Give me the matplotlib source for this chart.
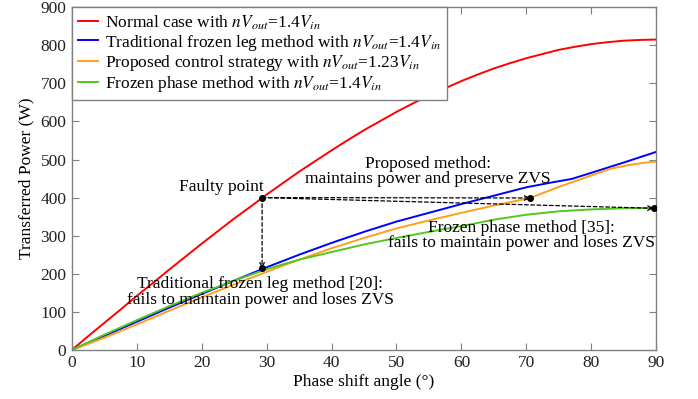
import matplotlib
matplotlib.use("Agg")
import matplotlib.pyplot as plt
import numpy as np

plt.rcParams['font.family'] = ['Liberation Serif', 'DejaVu Serif']
plt.rcParams['mathtext.fontset'] = 'stix'
plt.rcParams['font.size'] = 12.5

# Data
red_angle = [0, 2.5, 5, 7.5, 10, 12.5, 15, 17.5, 20, 22.5, 25, 27.5, 30, 32.5, 35, 37.5,
             40, 42.5, 45, 47.5, 50, 52.5, 55, 57.5, 60, 62.5, 65, 67.5, 70, 72.5, 75,
             77.5, 80, 82.5, 85, 87.5, 90]
normal = [0, 36, 71, 106, 142, 176, 211, 245, 279, 312, 345, 376, 408, 438, 468, 496,
          524, 551, 577, 601, 625, 647, 668, 687, 706, 723, 739, 753, 766, 777, 788,
          796, 803, 808, 812, 814, 815]

blue_angle = [0, 5, 10, 15, 20, 25, 30, 35, 40, 45, 50, 55, 60, 65, 70, 74, 77, 80, 85, 90]
blue = [0, 37, 74, 111, 147, 182, 217, 250, 281, 310, 337, 360, 383, 405, 427, 440, 449, 465, 492, 520]

orange_angle = [0, 5, 10, 15, 20, 25, 30, 35, 40, 45, 50, 55, 60, 65, 70.6, 75, 80, 83, 86, 88, 90]
orange = [0, 32, 67, 103, 138, 172, 205, 237, 267, 294, 319, 340, 360, 379, 399, 428, 458, 476, 486, 491, 495]

green_angle = [0, 5, 10, 15, 20, 25, 30, 35, 40, 45, 50, 55, 60, 65, 70, 75, 80, 85, 90]
green = [0, 40, 78, 115, 150, 182, 212, 237, 257, 277, 294, 310, 325, 342, 355, 364, 369, 372, 373]

labels = [r'Normal case with $nV_{out}$=1.4$V_{in}$',
          r'Traditional frozen leg method with $nV_{out}$=1.4$V_{in}$',
          r'Proposed control strategy with $nV_{out}$=1.23$V_{in}$',
          r'Frozen phase method with $nV_{out}$=1.4$V_{in}$']
colors = ['#ff0000', '#0000ff', '#ff9f1c', '#50c81e']

fault = (29.3, 400)
fault_trad = (29.3, 214)
prop_pt = (70.6, 399)
frozen_pt = (89.6, 372)

fig = plt.figure(figsize=(6.98, 3.99), dpi=100)
ax = fig.add_axes([0.103, 0.123, 0.837, 0.859])

lw = 1.4
ax.plot(red_angle, normal, color=colors[0], lw=lw, label=labels[0])
ax.plot(blue_angle, blue, color=colors[1], lw=lw, label=labels[1])
ax.plot(orange_angle, orange, color=colors[2], lw=lw, label=labels[2])
ax.plot(green_angle, green, color=colors[3], lw=lw, label=labels[3])

# dashed arrows
arrowprops = dict(arrowstyle='->', linestyle=(0, (3, 2)), color='black', lw=0.9,
                  shrinkA=0, shrinkB=0, mutation_scale=8)
ax.annotate('', xy=fault_trad, xytext=fault, arrowprops=arrowprops)
ax.annotate('', xy=prop_pt, xytext=fault, arrowprops=arrowprops)
ax.annotate('', xy=frozen_pt, xytext=fault, arrowprops=arrowprops)
for p in [fault, fault_trad, prop_pt, frozen_pt]:
    ax.plot(p[0], p[1], 'o', color='black', ms=4, zorder=5)

ax.text(23.1, 427, 'Faulty point', ha='center', va='center')
ax.text(54.9, 469, 'Proposed method:\nmaintains power and preserve ZVS',
        ha='center', va='center', linespacing=0.95)
ax.text(69.3, 301, 'Frozen phase method [35]:\nfails to maintain power and loses ZVS',
        ha='center', va='center', linespacing=0.95)
ax.text(29.0, 152, 'Traditional frozen leg method [20]:\nfails to maintain power and loses ZVS',
        ha='center', va='center', linespacing=0.95)

ax.set_xlim(0, 90)
ax.set_ylim(0, 900)
ax.set_xticks(np.arange(0, 91, 10))
ax.set_yticks(np.arange(0, 901, 100))
ax.set_xlabel('Phase shift angle (°)', labelpad=2)
ax.set_ylabel('Transferred Power (W)', labelpad=4)

for s in ax.spines.values():
    s.set_color('#808080')
    s.set_linewidth(1.0)
ax.tick_params(direction='in', top=True, right=True, color='#808080', length=5,
               labelcolor='#222222', pad=4)

leg = ax.legend(loc='upper left', borderaxespad=0, fancybox=False, framealpha=1,
                edgecolor='#808080', labelspacing=0.05, handlelength=1.15,
                handletextpad=0.4, borderpad=0.35)
leg.get_frame().set_linewidth(1.0)

fig.savefig('out.png', dpi=100)
